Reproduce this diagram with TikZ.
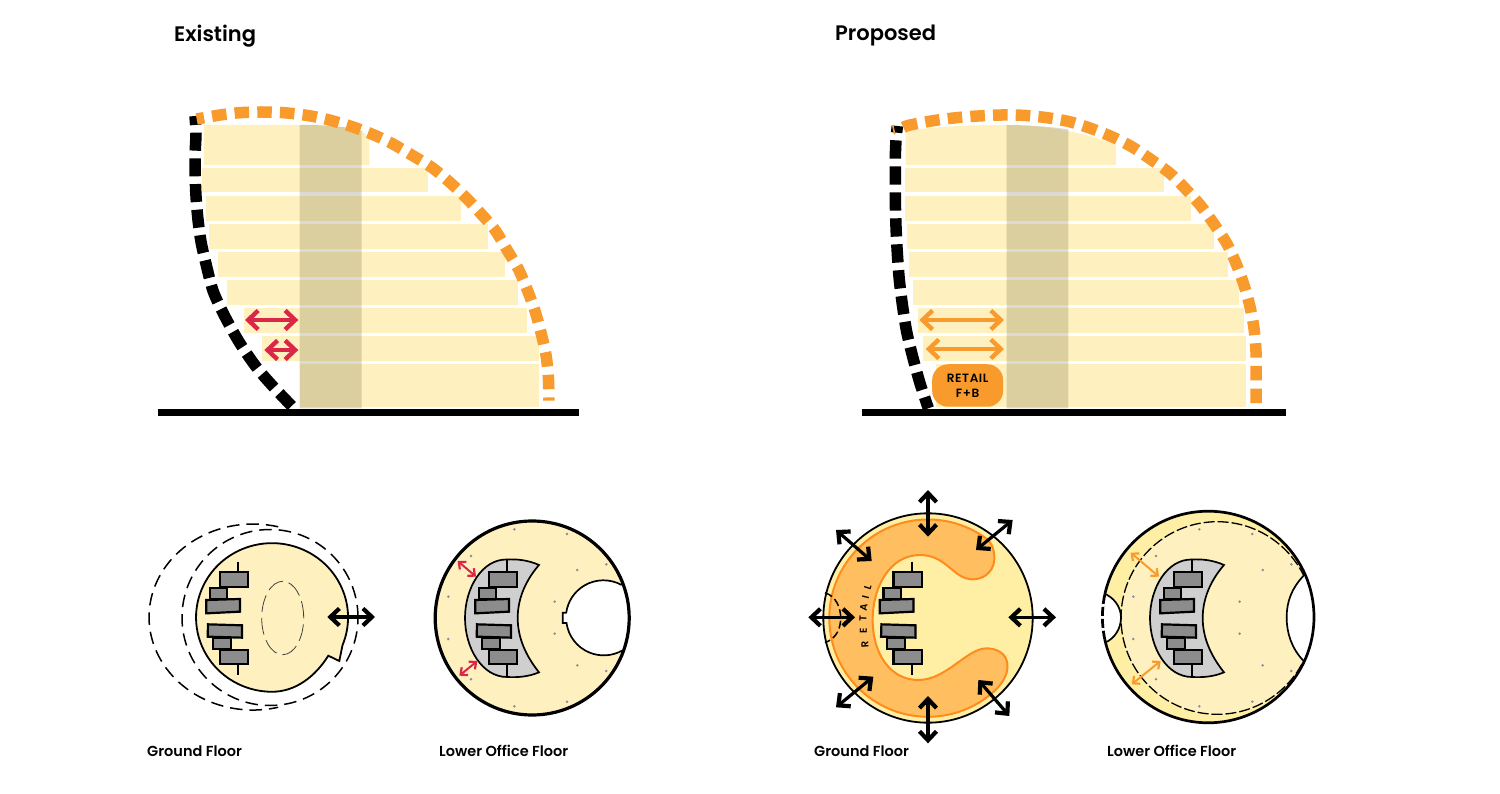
\documentclass[tikz,border=0pt]{standalone}
\usepackage{fontspec}
\setmainfont{Poppins}[BoldFont={Poppins SemiBold}]
\newfontfamily\spaced[LetterSpace=5]{Poppins SemiBold}
\newfontfamily\retailf{Poppins SemiBold}
\usetikzlibrary{arrows.meta}
\definecolor{floorc}{HTML}{FEF1BF}
\definecolor{paley}{HTML}{FFEFA5}
\definecolor{orangec}{HTML}{F99B2C}
\definecolor{retailc}{HTML}{FFBE60}
\definecolor{retaill}{HTML}{FF8C1A}
\definecolor{redc}{HTML}{DC2647}
\definecolor{corec}{HTML}{50461F}
\definecolor{barc}{HTML}{8C8C8C}
\definecolor{cresc}{HTML}{CFCFCF}
\definecolor{dotc}{HTML}{8A8A9A}
\tikzset{
  zoomed/.style 2 args={shift={(#1,#2)},x=0.33333pt,y=-0.33333pt},
  bararrow/.style={{Straight Barb[length=10pt,width=19pt,line cap=butt,line join=miter,line width=4.4pt]}-{Straight Barb[length=10pt,width=19pt,line cap=butt,line join=miter,line width=4.4pt]},line width=3.4pt},
  blackarrow/.style={{Straight Barb[length=9pt,width=17pt,line cap=butt,line join=miter,line width=4.2pt]}-{Straight Barb[length=9pt,width=17pt,line cap=butt,line join=miter,line width=4.2pt]},line width=3.2pt,black},
  smallarrow/.style={{Straight Barb[length=5.5pt,width=10pt,line cap=butt,line join=miter,line width=2.2pt]}-{Straight Barb[length=5.5pt,width=10pt,line cap=butt,line join=miter,line width=2.2pt]},line width=2pt},
  titletext/.style={anchor=west,inner sep=0pt,font=\bfseries\fontsize{21}{24}\selectfont},
  labeltext/.style={anchor=west,inner sep=0pt,font=\bfseries\fontsize{14.5}{17}\selectfont},
  orangedash/.style={orangec,line width=11.5pt,dash pattern=on 14.5pt off 8.2pt},
  blackdash/.style={black,line width=11.5pt,dash pattern=on 18pt off 7.7pt},
  wall/.style={black,line width=6.8pt},
  barbox/.style={draw=black,line width=2.2pt,fill=barc,line join=miter},
  dotm/.style={fill=dotc},
  thindash/.style={black,line width=1.5pt,dash pattern=on 12.5pt off 7pt},
}
\newcommand{\corebars}[1]{%
\begin{scope}[zoomed={#1}{470}]
\draw[black,line width=2.2pt] (325,275)--(325,307) (325,582)--(325,615);
\draw[barbox] (270,307) rectangle (355,350);
\draw[barbox] (240,353) rectangle (292,387);
\draw[barbox] (229,390)--(330,387)--(330,425)--(229,430)--cycle;
\draw[barbox] (234,463)--(336,466)--(336,503)--(233,500)--cycle;
\draw[barbox] (250,505) rectangle (304,537);
\draw[barbox] (270,540) rectangle (355,582);
\end{scope}}
\newcommand{\crescent}[1]{%
\draw[shift={(#1,0)},fill=cresc,draw=black,line width=1.7pt,line join=miter]
 (539,565) .. controls (528,560) and (517,559) .. (507,559.5) .. controls (482,559) and (465,588) .. (465,618)
 .. controls (465,648) and (482,677) .. (507,677) .. controls (517,677.5) and (528,677) .. (539,672.3)
 .. controls (526,656) and (517.7,638) .. (517.7,618) .. controls (517.7,598) and (526,580) .. (539,565) -- cycle;
\draw[shift={(#1,0)},black,line width=1.7pt] (507.3,559.5)--(507.3,572) (507.3,664)--(507.3,677);}
\begin{document}
\begin{tikzpicture}[x=1pt,y=-1pt]
\useasboundingbox (0,0) rectangle (1500,794);
\fill[white] (0,0) rectangle (1500,794);
\node[titletext] (t1) at (174,36) {Existing};
\node[titletext] (t2) at (835,36) {Proposed};
% ---------- section existing
\begin{scope}[zoomed={150}{90}]
\fill[floorc] (162,105)--(490,105) .. controls (560,108) and (600,112) .. (636,122)--(658,145)--(658,225)--(162,225)--cycle;
\foreach \a/\b/\c/\d in {157/233/833/307,167/317/934/392,177/401/1015/476,205/485/1065/561,231/570/1104/645,282/654/1131/729,335/738/1168/813,449/822/1167/951}
 \fill[floorc] (\a,\b) rectangle (\c,\d);
\fill[corec,opacity=.2] (449,105)--(490,105) .. controls (560,108) and (600,112) .. (635,122)--(635,955)--(449,955)--cycle;
\draw[blackdash,dash phase=9pt] plot[smooth] coordinates {(135,78)(138,130)(135,205)(137,300)(143,380)(153,455)(170,530)(190,605)(225,680)(268,757)(318,830)(368,888)(425,948)};
\draw[orangedash,dash phase=7pt] plot[smooth] coordinates {(140,87)(210,75)(270,68)(335,66)(400,68)(470,76)(530,88)(600,108)(665,132)(725,160)(785,195)(845,232)(895,273)(945,320)(990,368)(1035,420)(1070,478)(1105,537)(1132,600)(1155,663)(1173,728)(1188,795)(1195,860)(1197,932)};
\draw[bararrow,redc] (285,690)--(445,690);
\draw[bararrow,redc] (343,780)--(445,780);
\draw[wall] (24,967)--(1288,967);
\end{scope}
% ---------- section proposed
\begin{scope}[zoomed={860}{90}]
\fill[floorc] (137,125) .. controls (200,110) and (330,105) .. (440,105) .. controls (520,105) and (640,115) .. (768,165)--(768,225)--(137,225)--cycle;
\foreach \a/\b/\c/\d in {135/233/911/307,135/317/992/392,140/401/1062/476,148/485/1104/561,159/570/1137/645,174/654/1151/729,189/738/1157/813,227/822/1157/951}
 \fill[floorc] (\a,\b) rectangle (\c,\d);
\fill[corec,opacity=.2] (440,105) .. controls (500,105) and (570,110) .. (625,118)--(625,955)--(440,955)--cycle;
\draw[orangedash] plot[smooth] coordinates {(130,112)(150,105)(220,92)(290,83)(355,78)(425,75)(490,76)(560,83)(628,95)(692,115)(755,140)(815,170)(872,208)(930,250)(975,295)(1022,347)(1062,402)(1100,460)(1128,520)(1152,585)(1170,650)(1182,715)(1188,785)(1188,850)(1188,945)};
\draw[blackdash,dash pattern=on 18.3pt off 7.7pt,dash phase=11.6pt] plot[smooth] coordinates {(112,108)(108,150)(106,200)(106,250)(106,330)(108,410)(112,490)(118,570)(128,650)(140,725)(158,800)(180,880)(205,955)};
\draw[orangec,line width=1.6pt] (98,105)--(104,133);
\draw[bararrow,orangec] (178,690)--(432,690);
\draw[bararrow,orangec] (197,777)--(432,777);
\node[fill=orangec,rounded corners=16pt,minimum width=71pt,minimum height=42.5pt,inner sep=0pt,align=center,font=\spaced\fontsize{12}{15}\selectfont] (retailbox) at (323,886.5) {RETAIL\\F+B};
\draw[wall] (7,967)--(1278,967);
\end{scope}
% ---------- plan ground existing
\draw[thindash] (278.2,526.8) arc[start angle=76,end angle=284,x radius=104pt,y radius=93pt];
\draw[thindash] (270,617.5) circle[radius=88pt];
\draw[fill=floorc,draw=black,line width=1.8pt,line join=miter] (342.5,645.3) arc[start angle=-22,end angle=270,x radius=76pt,y radius=74.3pt] .. controls (295,691.8) and (315,677) .. (328.3,655.7) -- (339.3,661) -- cycle;
\draw[black!75,line width=.8pt,dash pattern=on 17pt off 6pt] (282.7,618) ellipse[x radius=21pt,y radius=36.7pt];
\corebars{130}
\draw[blackarrow] (327.3,617) -- (375,617);
% ---------- plan lower office existing
\fill[floorc] (532.2,618) circle[radius=97pt];
\begin{scope}
\clip (532.2,618) circle[radius=97pt];
\fill[white] (621.7,585) arc[start angle=61,end angle=172,radius=37.6pt] -- (562.7,612.8) -- (562.7,623) -- (566.5,623) arc[start angle=188,end angle=299,radius=37.6pt] -- (640,651) -- (640,585) -- cycle;
\draw[black,line width=1.7pt,line join=miter] (621.7,585) arc[start angle=61,end angle=172,radius=37.6pt] -- (562.7,612.8) -- (562.7,623) -- (566.5,623) arc[start angle=188,end angle=299,radius=37.6pt];
\end{scope}
\draw[black,line width=3.2pt] (532.2,618) circle[radius=97pt];
\crescent{0}
\corebars{399}
\begin{scope}[zoomed={420}{500}]
\foreach \x/\y in {283/88,441/102,559/193,472/210,153/168,85/290,404/305,404/401,85/417,472/496,559/513,153/538,283/619,441/605}
 \fill[dotm] (\x,\y) circle[radius=1.4pt];
\draw[smallarrow,redc] (113,183)--(168,230);
\draw[smallarrow,redc] (118,527)--(172,483);
\end{scope}
% ---------- plan ground proposed
\draw[fill=paley,draw=black,line width=1.8pt] (928,618) circle[radius=104.7pt];
\begin{scope}[zoomed={790}{480}]
\draw[fill=retailc,draw=retaill,line width=2pt] (592,178) arc[start angle=53,end angle=314,radius=98.67pt]
 .. controls (645,600) and (655,575) .. (652,550) .. controls (648,520) and (620,505) .. (590,505)
 .. controls (530,505) and (470,600) .. (385,600) .. controls (300,600) and (248,520) .. (248,420)
 .. controls (248,320) and (300,225) .. (390,225) .. controls (470,225) and (490,298) .. (548,298)
 .. controls (590,298) and (615,265) .. (613,232) .. controls (612,205) and (605,190) .. (592,178) -- cycle;
\draw[black,line width=1.5pt,dash pattern=on 8pt off 3.5pt] (105,338) .. controls (140,350) and (152,385) .. (152,414) .. controls (152,445) and (140,475) .. (105,488);
\foreach \l/\x/\y/\r [count=\i] in {R/225/493/94,E/220/453/90,T/219/416/88,A/221/383/82,I/227/351/76,L/233/322/72}
 \node[inner sep=0pt,rotate=\r,font=\retailf\fontsize{10}{12}\selectfont] (rl\i) at (\x,\y) {\l};
\end{scope}
\corebars{803.4}
\begin{scope}[zoomed={790}{480}]
\foreach \a/\b/\c/\d in {414/30/414/170,668/120/558/210,655/412/798/412,565/600/658/708,414/648/414/790,138/682/250/590,55/412/195/412,138/150/245/243}
 \draw[blackarrow] (\a,\b)--(\c,\d);
\end{scope}
% ---------- plan lower office proposed
\fill[paley] (1208.2,617) circle[radius=105.8pt];
\begin{scope}
\clip (1208.2,617) circle[radius=105.8pt];
\fill[floorc] (1217.3,618) circle[radius=96.3pt];
\draw[black,line width=1.3pt,dash pattern=on 11pt off 3pt] (1217.3,618) circle[radius=96.3pt];
\begin{scope}[zoomed={1090}{500}]
\fill[white] (640,228) .. controls (605,265) and (590,305) .. (590,352) .. controls (590,400) and (605,445) .. (640,482) -- (690,482) -- (690,228) -- cycle;
\draw[black,line width=1.7pt] (640,228) .. controls (605,265) and (590,305) .. (590,352) .. controls (590,400) and (605,445) .. (640,482);
\fill[white] (40,280) .. controls (70,290) and (93,320) .. (93,352) .. controls (93,385) and (75,415) .. (45,428) -- (20,428) -- (20,280) -- cycle;
\draw[black,line width=1.7pt] (40,280) .. controls (70,290) and (93,320) .. (93,352) .. controls (93,385) and (75,415) .. (45,428);
\end{scope}
\end{scope}
\draw[black,line width=2.7pt] (1208.2,617) circle[radius=105.8pt];
\draw[white,line width=3.5pt] (1104.7,595) arc[start angle=168,end angle=192,radius=105.8pt];
\draw[black,line width=2.7pt,dash pattern=on 9pt off 3pt] (1104.7,595) arc[start angle=168,end angle=192,radius=105.8pt];
\crescent{685}
\corebars{1084}
\begin{scope}[zoomed={1090}{500}]
\foreach \x/\y in {328/88,487/102,604/193,518/210,198/168,130/290,449/305,449/401,130/417,518/496,604/513,198/538,328/619,487/605}
 \fill[dotm] (\x,\y) circle[radius=1.4pt];
\draw[smallarrow,orangec] (122,158)--(207,230);
\draw[smallarrow,orangec] (125,553)--(212,483);
\end{scope}
% ---------- labels
\node[labeltext] (l1) at (147,751) {Ground Floor};
\node[labeltext] (l2) at (439,751) {Lower Office Floor};
\node[labeltext] (l3) at (814,751) {Ground Floor};
\node[labeltext] (l4) at (1107,751) {Lower Office Floor};
\end{tikzpicture}
\end{document}
